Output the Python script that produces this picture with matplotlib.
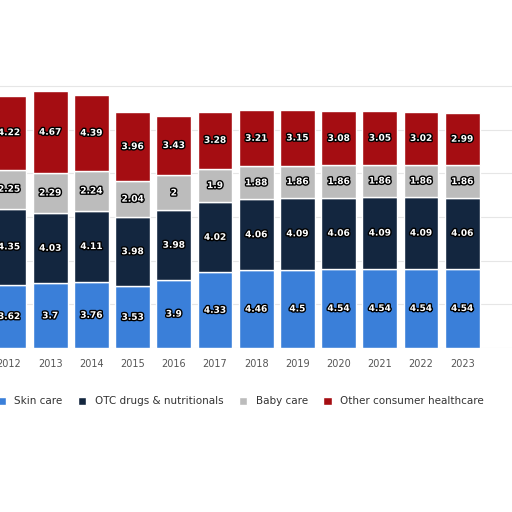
import matplotlib.pyplot as plt
import matplotlib.patheffects as pe

years = [2012, 2013, 2014, 2015, 2016, 2017, 2018, 2019, 2020, 2021, 2022, 2023]
skin_care = [3.62, 3.7, 3.76, 3.53, 3.9, 4.33, 4.46, 4.5, 4.54, 4.54, 4.54, 4.54]
otc = [4.35, 4.03, 4.11, 3.98, 3.98, 4.02, 4.06, 4.09, 4.06, 4.09, 4.09, 4.06]
baby_care = [2.25, 2.29, 2.24, 2.04, 2, 1.9, 1.88, 1.86, 1.86, 1.86, 1.86, 1.86]
other = [4.22, 4.67, 4.39, 3.96, 3.43, 3.28, 3.21, 3.15, 3.08, 3.05, 3.02, 2.99]

series = [("Skin care", skin_care, "#3a7fd9"),
          ("OTC drugs & nutritionals", otc, "#13263f"),
          ("Baby care", baby_care, "#bcbcbc"),
          ("Other consumer healthcare", other, "#a50d12")]

fig = plt.figure(figsize=(5.12, 5.12), dpi=100)
ax = fig.add_axes([0, 0.32, 1, 0.565])
bottom = [0] * len(years)
for name, vals, col in series:
    ax.bar(years, vals, bottom=bottom, width=0.84, color=col, edgecolor="white",
           linewidth=1, label=name, zorder=2)
    for x, b, v in zip(years, bottom, vals):
        ax.text(x, b + v / 2, f"{v:g}", ha="center", va="center", fontsize=6.5,
                color="white", fontweight="bold", zorder=3,
                path_effects=[pe.withStroke(linewidth=2, foreground="black")])
    bottom = [b + v for b, v in zip(bottom, vals)]

step = 41.2  # pixels per year
ax.set_xlim(2012 - 9 / step, 2012 - 9 / step + 512 / step)
ax.set_ylim(0, 16.55)
ax.set_xticks(years)
ax.tick_params(axis="x", length=0, labelsize=7, colors="#555555", pad=8)
ax.set_yticks([0, 2.5, 5, 7.5, 10, 12.5, 15])
ax.set_yticklabels([])
ax.tick_params(axis="y", length=0)
ax.grid(axis="y", color="#e6e6e6", zorder=0)
for s in ax.spines.values():
    s.set_visible(False)

fig.legend(loc="center", bbox_to_anchor=(0.47, 0.216), ncol=4, frameon=False,
           fontsize=7.5, handlelength=0.8, handleheight=0.8, columnspacing=1.5,
           labelcolor="#333333")
fig.savefig("out.png")
